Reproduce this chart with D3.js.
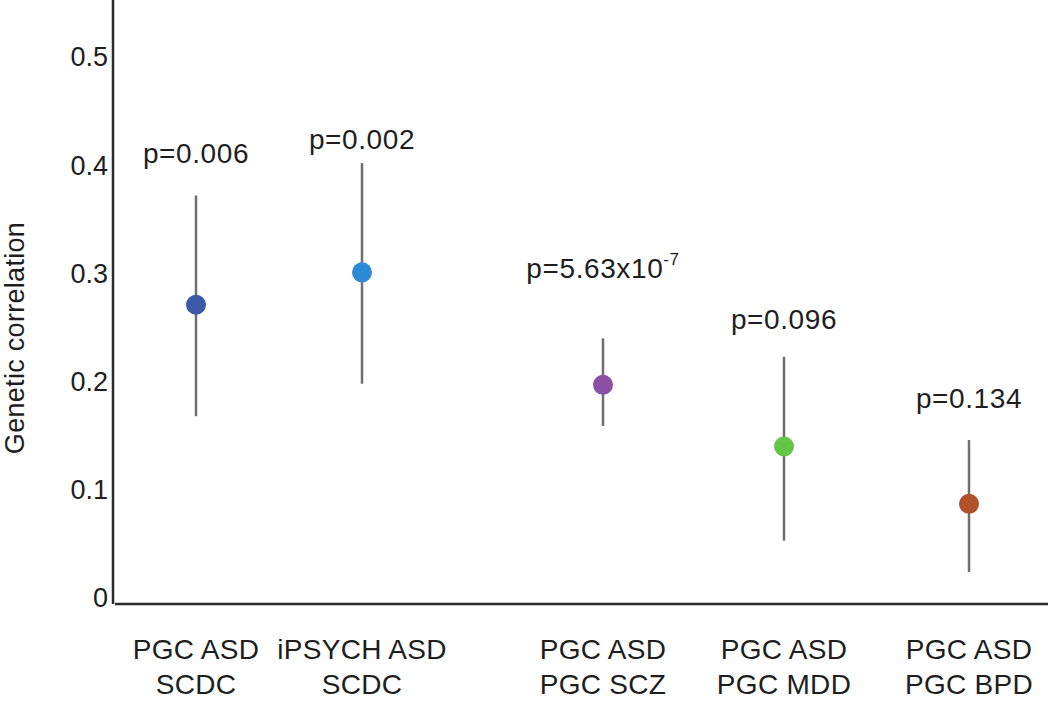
<!DOCTYPE html>
<html>
<head>
<meta charset="utf-8">
<script src="https://cdn.jsdelivr.net/npm/d3@7"></script>
<style>
  html, body { margin: 0; padding: 0; background: #fff; }
  svg { display: block; font-family: "Liberation Sans", Arial, sans-serif; }
</style>
</head>
<body>
<svg id="chart" width="1050" height="710"></svg>
<script>
// ---- data ----
const categories = ["PGC ASD|SCDC", "iPSYCH ASD|SCDC", "PGC ASD|PGC SCZ", "PGC ASD|PGC MDD", "PGC ASD|PGC BPD"];
const estimates  = [0.271, 0.301, 0.197, 0.140, 0.087];
const lowerCI    = [0.168, 0.198, 0.159, 0.053, 0.024];
const upperCI    = [0.372, 0.402, 0.240, 0.223, 0.146];
const pLabels    = ["p=0.006", "p=0.002", "p=5.63x10|-7", "p=0.096", "p=0.134"];
const pLabelAt   = [0.411, 0.424, 0.305, 0.258, 0.185]; // annotation anchor, data units
const yTicks     = [0, 0.1, 0.2, 0.3, 0.4, 0.5];
const yTickLabels = ["0", "0.1", "0.2", "0.3", "0.4", "0.5"];
const colors     = ["#3b59a9", "#2b8bd6", "#8c4fa5", "#62c646", "#b0522a"];

const svg = d3.select("#chart");

const y = d3.scaleLinear().domain([0, 0.5]).range([598, 57]);
const x = d3.scaleOrdinal().domain(categories).range([196, 362, 603, 784, 969]);

const textColor = "#1e1e1e";

// axes lines
svg.append("line")
  .attr("x1", 113).attr("x2", 113).attr("y1", 0).attr("y2", 604)
  .attr("stroke", "#2a2a2a").attr("stroke-width", 2.5);
svg.append("line")
  .attr("x1", 115).attr("x2", 1048).attr("y1", 604).attr("y2", 604)
  .attr("stroke", "#2a2a2a").attr("stroke-width", 2.5);

// y tick labels
svg.append("g").selectAll("text")
  .data(yTicks)
  .join("text")
  .attr("x", 108)
  .attr("y", d => y(d))
  .attr("dy", "0.35em")
  .attr("text-anchor", "end")
  .attr("font-size", 27)
  .attr("fill", textColor)
  .text((d, i) => yTickLabels[i]);

// y axis title
svg.append("text")
  .attr("transform", "translate(24,338) rotate(-90)")
  .attr("text-anchor", "middle")
  .attr("font-size", 27)
  .attr("letter-spacing", 0.3)
  .attr("fill", textColor)
  .text("Genetic correlation");

// error bars
svg.append("g").selectAll("line")
  .data(categories)
  .join("line")
  .attr("x1", d => x(d)).attr("x2", d => x(d))
  .attr("y1", (d, i) => y(upperCI[i]))
  .attr("y2", (d, i) => y(lowerCI[i]))
  .attr("stroke", "#6f6f6f")
  .attr("stroke-width", 2.5);

// points
svg.append("g").selectAll("circle")
  .data(categories)
  .join("circle")
  .attr("cx", d => x(d))
  .attr("cy", (d, i) => y(estimates[i]))
  .attr("r", 10)
  .attr("fill", (d, i) => colors[i]);

// p-value labels
const pl = svg.append("g").selectAll("text")
  .data(categories)
  .join("text")
  .attr("x", d => x(d))
  .attr("y", (d, i) => y(pLabelAt[i]))
  .attr("dy", "0.35em")
  .attr("text-anchor", "middle")
  .attr("font-size", 28)
  .attr("letter-spacing", 0.6)
  .attr("fill", textColor);
pl.each(function(d, i) {
  const parts = pLabels[i].split("|");
  const t = d3.select(this);
  t.append("tspan").text(parts[0]);
  if (parts[1]) {
    t.append("tspan")
      .attr("font-size", 17)
      .attr("dy", "-0.75em")
      .text(parts[1]);
  }
});

// category labels (two lines)
const cl = svg.append("g").selectAll("text")
  .data(categories)
  .join("text")
  .attr("text-anchor", "middle")
  .attr("font-size", 28)
  .attr("letter-spacing", 0.3)
  .attr("fill", textColor);
cl.each(function(d) {
  const lines = d.split("|");
  const t = d3.select(this);
  lines.forEach((ln, k) => {
    t.append("tspan")
      .attr("x", x(d))
      .attr("y", 659 + k * 35)
      .text(ln);
  });
});
</script>
</body>
</html>
